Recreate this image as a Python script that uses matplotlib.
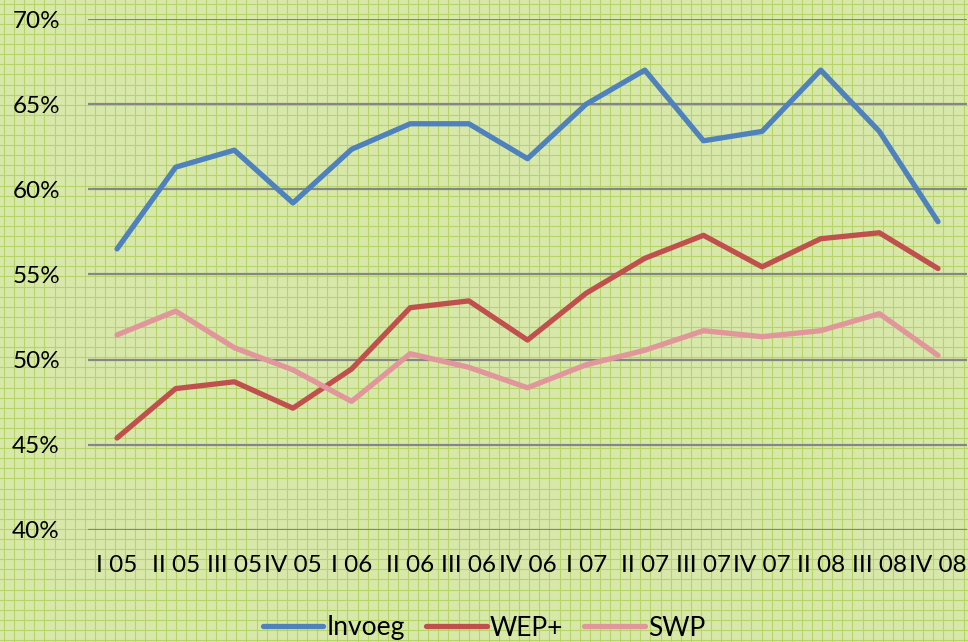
import numpy as np
import matplotlib.pyplot as plt
from matplotlib.ticker import FuncFormatter

quarters = ['I 05', 'II 05', 'III 05', 'IV 05', 'I 06', 'II 06', 'III 06', 'IV 06',
            'I 07', 'II 07', 'III 07', 'IV 07', 'II 08', 'III 08', 'IV 08']
invoeg = [56.5, 61.3, 62.3, 59.2, 62.35, 63.85, 63.85, 61.8, 65.0, 67.0, 62.85, 63.4, 67.0, 63.4, 58.1]
wep = [45.4, 48.3, 48.7, 47.15, 49.45, 53.05, 53.45, 51.15, 53.9, 55.95, 57.3, 55.45, 57.1, 57.45, 55.35]
swp = [51.45, 52.85, 50.7, 49.4, 47.55, 50.35, 49.55, 48.35, 49.7, 50.55, 51.7, 51.35, 51.7, 52.7, 50.25]

plt.rcParams['font.family'] = ['Lato', 'DejaVu Sans']

fig = plt.figure(figsize=(9.68, 6.42), dpi=100)
fig.patch.set_facecolor('#d7e8aa')

# graph-paper background
bg = fig.add_axes([0, 0, 1, 1], zorder=0)
bg.set_xlim(0, 968)
bg.set_ylim(0, 642)
bg.axis('off')
for gx in np.arange(4, 968, 10.1):
    bg.axvline(gx, color='#b6d468', lw=0.8)
for gy in np.arange(2, 642, 10.1):
    bg.axhline(gy, color='#b6d468', lw=0.8)

ax = fig.add_axes([0.0906, 0.1745, 0.9087, 0.7959], zorder=1)
ax.patch.set_alpha(0)
x = np.arange(len(quarters))
ax.plot(x, invoeg, color='#4f81bd', lw=3.8, label='Invoeg', solid_capstyle='round')
ax.plot(x, wep, color='#c0504d', lw=3.8, label='WEP+', solid_capstyle='round')
ax.plot(x, swp, color='#e0969a', lw=3.8, label='SWP', solid_capstyle='round')

ax.set_xlim(-0.5, len(quarters) - 0.5)
ax.set_ylim(40, 70)
ax.set_yticks(range(40, 71, 5))
ax.yaxis.set_major_formatter(FuncFormatter(lambda v, p: f'{v:.0f}%'))
ax.set_xticks(x)
ax.set_xticklabels(quarters)
ax.grid(axis='y', color='#868686', lw=1.6)
ax.set_axisbelow(True)
for s in ax.spines.values():
    s.set_visible(False)
ax.tick_params(axis='both', length=0, labelsize=17.5)
ax.tick_params(axis='y', pad=20)
ax.tick_params(axis='x', pad=18)

fig.legend(loc='center', bbox_to_anchor=(0.5, 14 / 642), ncol=3, frameon=False,
           fontsize=19, handlelength=2.3, handletextpad=0.12, columnspacing=0.8)

fig.savefig('out.png', dpi=100, facecolor=fig.get_facecolor())
